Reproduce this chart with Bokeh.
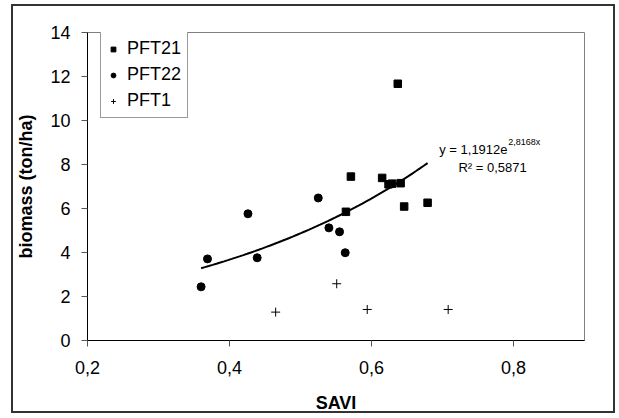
import numpy as np
from bokeh.plotting import figure
from bokeh.models import FixedTicker, Legend, LegendItem, Label, Range1d
from bokeh.embed import file_html
from bokeh.resources import INLINE

# ---- data ----
pft21_x = [0.571, 0.564, 0.615, 0.637, 0.624, 0.629, 0.641, 0.646, 0.679]
pft21_y = [7.45, 5.85, 7.39, 11.67, 7.10, 7.13, 7.15, 6.09, 6.26]

pft22_x = [0.360, 0.369, 0.426, 0.439, 0.525, 0.540, 0.555, 0.563]
pft22_y = [2.44, 3.71, 5.76, 3.76, 6.48, 5.12, 4.94, 3.99]

pft1_x = [0.465, 0.551, 0.594, 0.708]
pft1_y = [1.29, 2.58, 1.41, 1.41]

# exponential trendline shown on the chart: y = a * exp(b x)
trend_a = 1.1912
trend_b = 2.8168
trend_r2 = "0,5871"

x_ticks = [0.2, 0.4, 0.6, 0.8]
x_tick_labels = ["0,2", "0,4", "0,6", "0,8"]
y_ticks = [0, 2, 4, 6, 8, 10, 12, 14]

FONT = "Liberation Sans"

p = figure(width=604, height=409, output_backend="svg", toolbar_location=None,
           x_range=Range1d(0.2, 0.9), y_range=Range1d(0, 14),
           min_border_left=73, min_border_top=26, min_border_right=33,
           min_border_bottom=75)
p.styles = {"border": "2px solid #333333", "margin-left": "11px",
            "margin-top": "4px"}
p.background_fill_color = "white"
p.border_fill_color = "white"
p.outline_line_color = "#808080"
p.outline_line_width = 1
p.grid.visible = False

for ax in (p.xaxis[0], p.yaxis[0]):
    ax.axis_line_color = "black"
    ax.axis_line_width = 1
    ax.major_tick_line_color = "#555555"
    ax.major_tick_out = 6
    ax.major_tick_in = 0
    ax.minor_tick_line_color = None
    ax.major_label_text_font = FONT
    ax.major_label_text_font_size = "18px"
    ax.major_label_text_color = "black"
    ax.axis_label_text_font = FONT
    ax.axis_label_text_font_size = "18px"
    ax.axis_label_text_font_style = "bold"
    ax.axis_label_text_color = "black"

p.xaxis.ticker = FixedTicker(ticks=x_ticks)
p.xaxis.major_label_overrides = {t: l for t, l in zip(x_ticks, x_tick_labels)}
p.xaxis.axis_label = "SAVI"
p.xaxis.major_label_standoff = 14
p.xaxis.axis_label_standoff = 16

p.yaxis.ticker = FixedTicker(ticks=y_ticks)
p.yaxis.axis_label = "biomass (ton/ha)"
p.yaxis.major_label_standoff = 11
p.yaxis.axis_label_standoff = 11

# trendline
tx = np.linspace(min(pft22_x), max(pft21_x), 60)
ty = trend_a * np.exp(trend_b * tx)
p.line(tx, ty, line_color="black", line_width=2)

r21 = p.scatter(pft21_x, pft21_y, marker="square", size=7.5,
                fill_color="black", line_color="black")
r22 = p.scatter(pft22_x, pft22_y, marker="circle", size=8,
                fill_color="black", line_color="black")
r1 = p.scatter(pft1_x, pft1_y, marker="cross", size=9,
               line_color="black", line_width=1)

legend = Legend(items=[LegendItem(label="PFT21", renderers=[r21]),
                       LegendItem(label="PFT22", renderers=[r22]),
                       LegendItem(label="PFT1", renderers=[r1])],
                location=(13, 222))
legend.label_text_font = FONT
legend.label_text_font_size = "18px"
legend.label_text_color = "black"
legend.border_line_color = "#333333"
legend.border_line_width = 1
legend.background_fill_color = "white"
legend.background_fill_alpha = 1
legend.padding = 6
legend.spacing = 5
legend.margin = 0
legend.glyph_width = 12
legend.glyph_height = 20
legend.label_height = 20
legend.label_standoff = 8
p.add_layout(legend)

# equation labels
eq_main = Label(x=0.6954, y=8.68, text="y = 1,1912e", text_font=FONT,
                text_font_size="13px", text_color="black",
                text_align="left", text_baseline="alphabetic")
eq_sup = Label(x=0.7925, y=9.02, text="2,8168x", text_font=FONT,
               text_font_size="9px", text_color="black",
               text_align="left", text_baseline="alphabetic")
eq_r2 = Label(x=0.7225, y=7.88, text="R² = " + trend_r2, text_font=FONT,
              text_font_size="13px", text_color="black",
              text_align="left", text_baseline="alphabetic")
p.add_layout(eq_main)
p.add_layout(eq_sup)
p.add_layout(eq_r2)

open("out.html", "w").write(file_html(p, INLINE))
